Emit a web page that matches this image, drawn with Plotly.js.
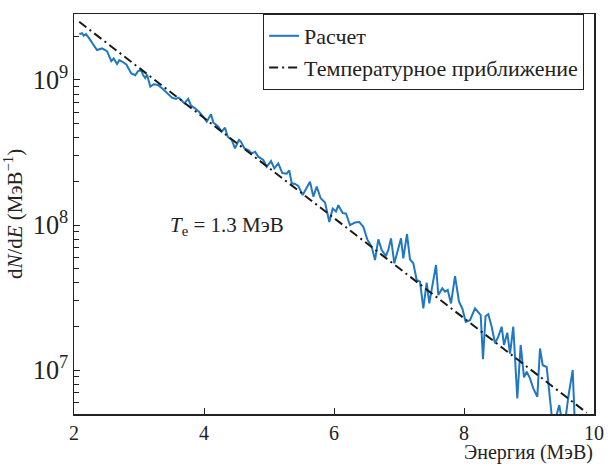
<!DOCTYPE html>
<html>
<head>
<meta charset="utf-8">
<script src="https://cdn.plot.ly/plotly-3.0.1.min.js"></script>
<style>html,body{margin:0;padding:0;background:#fff;}#chart{width:608px;height:466px;}</style>
</head>
<body>
<div id="chart"></div>
<script>
// Energy (MeV) of the computed spectrum
const calcE = [2.082,2.123,2.149,2.185,2.226,2.288,2.354,2.431,2.508,2.574,2.611,2.662,2.697,2.738,2.805,2.882,2.943,2.985,3.035,3.062,3.097,3.123,3.174,3.226,3.292,3.354,3.431,3.508,3.569,3.611,3.651,
3.697,3.758,3.800,3.862,3.923,4.005,4.042,4.108,4.143,4.220,4.272,4.323,4.365,4.426,4.477,4.538,4.569,4.620,4.682,4.734,4.785,4.835,4.912,4.965,5.031,5.082,5.143,5.205,5.272,5.312,
5.349,5.400,5.451,5.518,5.569,5.631,5.682,5.734,5.795,5.862,5.928,5.980,6.031,6.066,6.134,6.185,6.246,6.323,6.389,6.451,6.512,6.580,6.631,6.682,6.734,6.800,6.838,
6.877,6.928,6.980,7.031,7.066,7.123,7.169,7.220,7.272,7.323,7.374,7.426,7.466,7.512,7.569,7.605,7.666,7.708,7.749,7.800,7.862,7.923,7.974,8.026,8.092,8.169,8.220,
8.257,8.292,8.331,8.374,8.426,8.477,8.528,8.580,8.615,8.666,8.708,8.758,8.820,8.872,8.923,8.965,9.015,9.066,9.128,9.169,9.211,9.272,9.334,9.369,9.466,9.523,9.569,9.605,9.672,9.708];
// dN/dE values (MeV^-1) of the computed spectrum
const calcN = [2.07e9,2.10e9,2.02e9,2.07e9,1.96e9,1.79e9,1.61e9,1.65e9,1.58e9,1.35e9,1.41e9,1.29e9,1.37e9,1.34e9,1.28e9,1.11e9,1.08e9,1.15e9,1.17e9,1.08e9,1.03e9,1.09e9,8.99e8,9.34e8,9.24e8,8.77e8,8.09e8,7.55e8,7.40e8,7.55e8,7.28e8,
6.90e8,7.40e8,6.65e8,6.38e8,6.04e8,5.45e8,5.16e8,5.80e8,5.10e8,4.76e8,4.40e8,4.69e8,4.06e8,3.86e8,3.38e8,3.86e8,3.75e8,3.38e8,3.29e8,3.12e8,3.20e8,2.96e8,2.81e8,2.52e8,2.76e8,2.46e8,2.66e8,2.28e8,2.26e8,2.38e8,
1.94e8,1.92e8,1.86e8,1.61e8,1.79e8,1.99e8,1.57e8,1.84e8,1.53e8,1.43e8,1.05e8,1.30e8,1.24e8,1.37e8,1.21e8,1.20e8,1.00e8,1.04e8,1.05e8,9.73e7,7.96e7,7.07e7,5.74e7,7.96e7,6.73e7,6.11e7,6.80e7,
8.09e7,5.45e7,6.55e7,8.09e7,5.89e7,8.67e7,5.80e7,5.45e7,4.18e7,4.07e7,2.66e7,4.00e7,2.88e7,3.75e7,5.30e7,3.29e7,3.66e7,3.47e7,3.57e7,2.88e7,4.45e7,2.96e7,2.66e7,2.15e7,2.21e7,2.66e7,2.52e7,
2.39e7,1.19e7,2.35e7,2.43e7,1.99e7,1.53e7,1.70e7,1.99e7,1.49e7,1.81e7,1.30e7,1.99e7,6.38e6,1.49e7,8.91e6,9.73e6,8.77e6,7.48e6,6.55e6,1.41e7,1.08e7,1.05e7,5.30e6,4.0e6,5.74e6,4.0e6,4.9e6,6.55e6,1.0e7,4.0e6];
// Temperature approximation (straight line in log scale), endpoints
const fitE = [2.08, 9.888];
const fitN = [2.52e9, 5.08e6];

const names = ['Расчет', 'Температурное приближение'];
const xTicks = [2, 4, 6, 8, 10];

const serif = 'Liberation Serif, Times New Roman, serif';
const ink = '#222';

const traces = [
  {x: calcE, y: calcN, name: names[0], mode: 'lines', type: 'scatter',
   line: {color: '#1f78c1', width: 2}},
  {x: fitE, y: fitN, name: names[1], mode: 'lines', type: 'scatter',
   line: {color: '#1a1a1a', width: 2, dash: '9px,4px,2px,4px'}}
];

const layout = {
  width: 608, height: 466,
  margin: {l: 74, r: 14, t: 14, b: 52},
  paper_bgcolor: '#fff', plot_bgcolor: '#fff',
  font: {family: serif, size: 21, color: ink},
  showlegend: true,
  legend: {x: 0.981, y: 1.0, xanchor: 'right', yanchor: 'top',
           bordercolor: ink, borderwidth: 1, bgcolor: '#fff',
           font: {family: serif, size: 22, color: ink}, tracegroupgap: 0},
  xaxis: {range: [2, 10], tickvals: xTicks, ticktext: xTicks.map(String),
          ticks: 'inside', ticklen: 6, tickwidth: 1, tickcolor: ink,
          showline: true, linecolor: ink, linewidth: 1.5, mirror: true,
          showgrid: false, zeroline: false, ticklabelstandoff: 0,
          tickfont: {family: serif, size: 20, color: ink}},
  yaxis: {type: 'log', range: [Math.log10(4.98e6), Math.log10(2.85e9)],
          dtick: 1, exponentformat: 'power',
          ticks: 'inside', ticklen: 6, tickwidth: 1, tickcolor: ink,
          minor: {ticks: 'inside', ticklen: 5, dtick: 'D1', tickcolor: ink, showgrid: false},
          showline: true, linecolor: ink, linewidth: 1.5, mirror: true,
          showgrid: false, zeroline: false,
          tickfont: {family: serif, size: 21, color: ink},
          title: {text: 'd<i>N</i>/d<i>E</i> (МэВ<sup>−1</sup>)', font: {family: serif, size: 21, color: ink}, standoff: 6}},
  annotations: [
    {xref: 'paper', yref: 'paper', x: 1.0, y: -0.128, xanchor: 'right', yanchor: 'bottom',
     borderpad: 0, text: 'Энергия (МэВ)', showarrow: false, font: {family: serif, size: 20, color: ink}},
    {xref: 'x', yref: 'paper', x: 3.45, y: 0.47, xanchor: 'left', yanchor: 'middle',
     text: '<i>T</i><sub>e</sub> = 1.3 МэВ', showarrow: false, font: {family: serif, size: 21, color: ink}}
  ]
};

Plotly.newPlot('chart', traces, layout, {displayModeBar: false, staticPlot: true});
</script>
</body>
</html>
